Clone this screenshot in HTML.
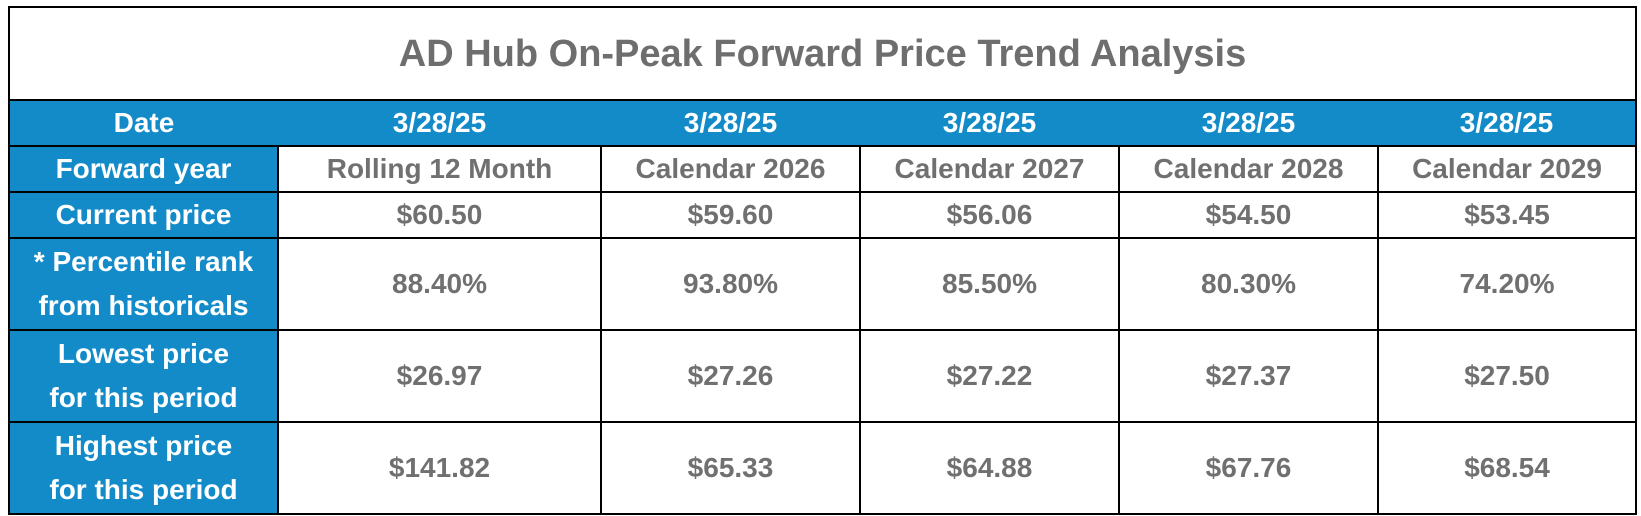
<!DOCTYPE html>
<html><head><meta charset="utf-8"><style>
html,body{margin:0;padding:0;background:#fff;width:1641px;height:516px;overflow:hidden}
table{position:absolute;left:8px;top:6px;border-collapse:collapse;table-layout:fixed;width:1627px;font-family:"Liberation Sans Narrow","Liberation Sans",sans-serif;font-weight:bold}
td{border:2px solid #000;text-align:center;vertical-align:middle;color:#707070;font-size:28px;padding:0;line-height:44px}
td.h{background:#128bc8;color:#fff}
tr.t td{height:91px;font-size:38px;color:#6e6e6e}
tr.d td{background:#128bc8;color:#fff;height:43px;border-left:none;border-right:none}
tr.r1 td{height:44px}
tr.r2 td{height:90px}
</style></head><body>
<table>
<colgroup><col style="width:269px"><col style="width:323px"><col style="width:259px"><col style="width:259px"><col style="width:259px"><col style="width:258px"></colgroup>
<tr class="t"><td colspan="6">AD Hub On-Peak Forward Price Trend Analysis</td></tr>
<tr class="d"><td style="border-left:2px solid #000">Date</td><td>3/28/25</td><td>3/28/25</td><td>3/28/25</td><td>3/28/25</td><td style="border-right:2px solid #000">3/28/25</td></tr>
<tr class="r1"><td class="h">Forward year</td><td>Rolling 12 Month</td><td>Calendar 2026</td><td>Calendar 2027</td><td>Calendar 2028</td><td>Calendar 2029</td></tr>
<tr class="r1"><td class="h">Current price</td><td>$60.50</td><td>$59.60</td><td>$56.06</td><td>$54.50</td><td>$53.45</td></tr>
<tr class="r2"><td class="h">* Percentile rank<br>from historicals</td><td>88.40%</td><td>93.80%</td><td>85.50%</td><td>80.30%</td><td>74.20%</td></tr>
<tr class="r2"><td class="h">Lowest price<br>for this period</td><td>$26.97</td><td>$27.26</td><td>$27.22</td><td>$27.37</td><td>$27.50</td></tr>
<tr class="r2"><td class="h">Highest price<br>for this period</td><td>$141.82</td><td>$65.33</td><td>$64.88</td><td>$67.76</td><td>$68.54</td></tr>
</table>
</body></html>
